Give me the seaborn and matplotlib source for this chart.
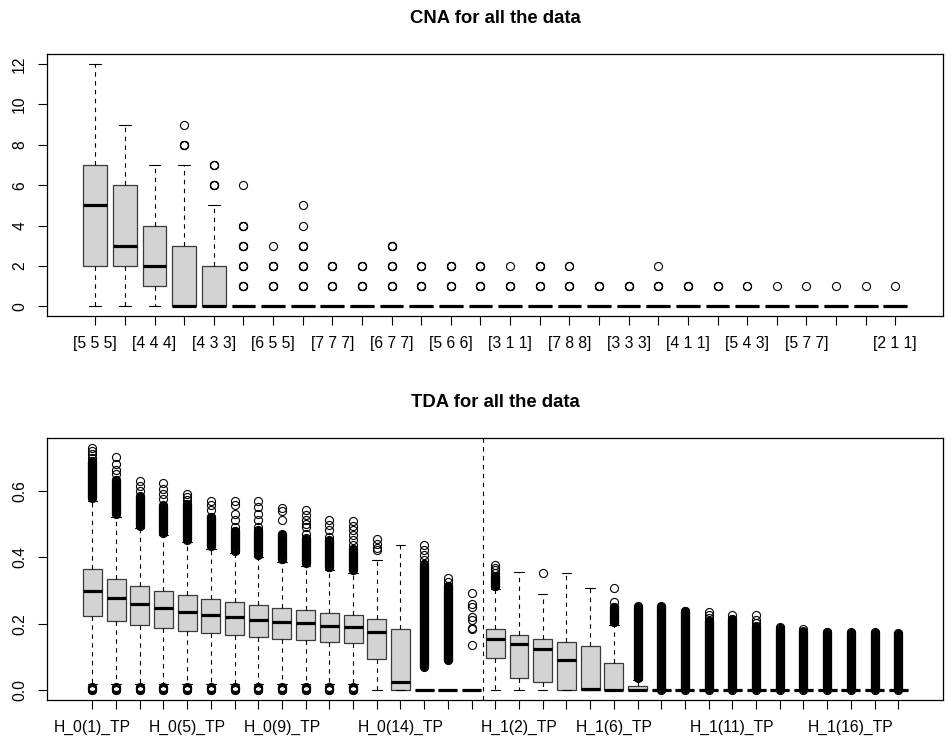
import numpy as np
import pandas as pd
import matplotlib
matplotlib.use("Agg")
import matplotlib.pyplot as plt
import seaborn as sns

# ---------------- CNA panel data ----------------
cna_labels = ["[5 5 5]", "", "[4 4 4]", "", "[4 3 3]", "", "[6 5 5]", "",
              "[7 7 7]", "", "[6 7 7]", "", "[5 6 6]", "", "[3 1 1]", "",
              "[7 8 8]", "", "[3 3 3]", "", "[4 1 1]", "", "[5 4 3]", "",
              "[5 7 7]", "", "", "[2 1 1]"]
cna_lo  = [0, 0, 0, 0, 0, 0, 0, 0, 0, 0, 0, 0, 0, 0, 0, 0, 0, 0, 0, 0, 0, 0, 0, 0, 0, 0, 0, 0]
cna_q1  = [2, 2, 1, 0, 0, 0, 0, 0, 0, 0, 0, 0, 0, 0, 0, 0, 0, 0, 0, 0, 0, 0, 0, 0, 0, 0, 0, 0]
cna_med = [5, 3, 2, 0, 0, 0, 0, 0, 0, 0, 0, 0, 0, 0, 0, 0, 0, 0, 0, 0, 0, 0, 0, 0, 0, 0, 0, 0]
cna_q3  = [7, 6, 4, 3, 2, 0, 0, 0, 0, 0, 0, 0, 0, 0, 0, 0, 0, 0, 0, 0, 0, 0, 0, 0, 0, 0, 0, 0]
cna_hi  = [12, 9, 7, 7, 5, 0, 0, 0, 0, 0, 0, 0, 0, 0, 0, 0, 0, 0, 0, 0, 0, 0, 0, 0, 0, 0, 0, 0]
# outliers (repeated values = overlapping circles drawn bold)
cna_out = [
    [], [], [],
    [8, 8, 8, 8, 9],
    [6, 6, 6, 6, 7, 7, 7],
    [1, 1, 1, 1, 2, 2, 2, 2, 3, 3, 3, 3, 4, 4, 4, 4, 6],
    [1, 1, 1, 1, 2, 2, 2, 2, 3],
    [1, 1, 1, 1, 2, 2, 2, 2, 3, 3, 3, 3, 4, 5],
    [1, 1, 1, 1, 2, 2, 2, 2],
    [1, 1, 1, 1, 2, 2, 2, 2],
    [1, 1, 1, 1, 2, 2, 2, 2, 3, 3, 3, 3],
    [1, 1, 1, 1, 2, 2, 2, 2],
    [1, 1, 1, 1, 2, 2, 2, 2],
    [1, 1, 1, 1, 2, 2, 2, 2],
    [1, 1, 1, 1, 2],
    [1, 1, 1, 1, 2, 2, 2, 2],
    [1, 1, 1, 1, 2, 2],
    [1, 1, 1, 1],
    [1, 1, 1, 1],
    [1, 1, 1, 1, 2],
    [1, 1, 1, 1],
    [1, 1, 1],
    [1, 1],
    [1],
    [1],
    [1],
    [1],
    [1],
]

# ---------------- TDA panel data ----------------
tda_names = ["H_0(1)_TP", "H_0(2)_TP", "H_0(3)_TP", "H_0(4)_TP", "H_0(5)_TP",
             "H_0(6)_TP", "H_0(7)_TP", "H_0(8)_TP", "H_0(9)_TP", "H_0(10)_TP",
             "H_0(11)_TP", "H_0(12)_TP", "H_0(13)_TP", "H_0(14)_TP", "H_0(15)_TP",
             "H_0(16)_TP", "H_0(17)_TP",
             "H_1(1)_TP", "H_1(2)_TP", "H_1(3)_TP", "H_1(4)_TP", "H_1(5)_TP",
             "H_1(6)_TP", "H_1(7)_TP", "H_1(8)_TP", "H_1(9)_TP", "H_1(10)_TP",
             "H_1(11)_TP", "H_1(12)_TP", "H_1(13)_TP", "H_1(14)_TP", "H_1(15)_TP",
             "H_1(16)_TP", "H_1(17)_TP", "H_1(18)_TP"]
tda_shown = ["H_0(1)_TP", "H_0(5)_TP", "H_0(9)_TP", "H_0(14)_TP",
             "H_1(2)_TP", "H_1(6)_TP", "H_1(11)_TP", "H_1(16)_TP"]

tda_lo  = [0.020, 0.020, 0.020, 0.020, 0.020, 0.020, 0.020, 0.020, 0.020, 0.020,
           0.020, 0.020, 0.0, 0.0, 0.0, 0.0, 0.0,
           0.0, 0.0, 0.0, 0.0, 0.0, 0.0, 0.0, 0.0, 0.0, 0.0,
           0.0, 0.0, 0.0, 0.0, 0.0, 0.0, 0.0, 0.0]
tda_q1  = [0.223, 0.208, 0.195, 0.186, 0.178, 0.171, 0.165, 0.160, 0.154, 0.150,
           0.145, 0.142, 0.093, 0.0, 0.0, 0.0, 0.0,
           0.098, 0.036, 0.026, 0.0, 0.0, 0.0, 0.0, 0.0, 0.0, 0.0,
           0.0, 0.0, 0.0, 0.0, 0.0, 0.0, 0.0, 0.0]
tda_med = [0.299, 0.277, 0.260, 0.249, 0.236, 0.228, 0.221, 0.213, 0.206, 0.201,
           0.194, 0.189, 0.176, 0.026, 0.0, 0.0, 0.0,
           0.153, 0.138, 0.124, 0.091, 0.004, 0.002, 0.002, 0.0, 0.0, 0.0,
           0.0, 0.0, 0.0, 0.0, 0.0, 0.0, 0.0, 0.0]
tda_q3  = [0.364, 0.335, 0.314, 0.300, 0.287, 0.275, 0.266, 0.258, 0.249, 0.242,
           0.234, 0.228, 0.216, 0.184, 0.0, 0.0, 0.0,
           0.183, 0.167, 0.153, 0.144, 0.133, 0.081, 0.014, 0.0, 0.0, 0.0,
           0.0, 0.0, 0.0, 0.0, 0.0, 0.0, 0.0, 0.0]
tda_hi  = [0.570, 0.520, 0.488, 0.466, 0.445, 0.426, 0.412, 0.400, 0.386, 0.375,
           0.362, 0.354, 0.393, 0.436, 0.0, 0.0, 0.0,
           0.305, 0.356, 0.290, 0.353, 0.307, 0.196, 0.030, 0.0, 0.0, 0.0,
           0.0, 0.0, 0.0, 0.0, 0.0, 0.0, 0.0, 0.0]
# individually visible outliers
tda_out = [
    [0.700, 0.710, 0.720, 0.729],
    [0.651, 0.664, 0.681, 0.701],
    [0.601, 0.616, 0.631],
    [0.576, 0.591, 0.606, 0.624],
    [0.572, 0.581, 0.591],
    [0.541, 0.556, 0.571],
    [0.491, 0.511, 0.531, 0.556, 0.571],
    [0.491, 0.511, 0.531, 0.551, 0.569],
    [0.513, 0.540, 0.549],
    [0.471, 0.491, 0.501, 0.511, 0.526, 0.543],
    [0.461, 0.481, 0.496, 0.511],
    [0.436, 0.451, 0.466, 0.481, 0.494, 0.508],
    [0.421, 0.428, 0.441, 0.456],
    [],
    [0.391, 0.406, 0.421, 0.436],
    [0.326, 0.338],
    [0.136, 0.184, 0.188, 0.213, 0.221, 0.251, 0.259, 0.293],
    [0.352, 0.361, 0.369, 0.376],
    [],
    [0.353],
    [],
    [],
    [0.266, 0.307],
    [],
    [],
    [],
    [0.219, 0.227, 0.236],
    [0.226],
    [0.203, 0.212, 0.226],
    [0.191],
    [0.183],
    [],
    [],
    [],
    [],
]
# extents of outlier runs so dense that they print as solid black columns
tda_dense = [
    [(0.0, 0.010), (0.579, 0.690)],
    [(0.0, 0.010), (0.530, 0.635)],
    [(0.0, 0.010), (0.495, 0.586)],
    [(0.0, 0.010), (0.474, 0.556)],
    [(0.0, 0.010), (0.453, 0.560)],
    [(0.0, 0.010), (0.434, 0.521)],
    [(0.0, 0.010), (0.420, 0.481)],
    [(0.0, 0.010), (0.408, 0.481)],
    [(0.0, 0.010), (0.394, 0.471)],
    [(0.0, 0.010), (0.383, 0.456)],
    [(0.0, 0.010), (0.370, 0.451)],
    [(0.0, 0.010), (0.362, 0.426)],
    [], [],
    [(0.071, 0.381)],
    [(0.091, 0.316)],
    [],
    [(0.313, 0.345)],
    [], [], [], [],
    [(0.204, 0.252)],
    [(0.037, 0.253)],
    [(0.002, 0.254)],
    [(0.002, 0.240)],
    [(0.002, 0.210)],
    [(0.002, 0.216)],
    [(0.002, 0.192)],
    [(0.002, 0.186)],
    [(0.002, 0.178)],
    [(0.002, 0.176)],
    [(0.002, 0.175)],
    [(0.002, 0.174)],
    [(0.002, 0.172)],
]


def build_frame(lo, q1, med, q3, hi, out, dense=None, k=600, step=0.002):
    """Sample table whose box statistics equal the read summary values."""
    rows_pos, rows_val = [], []
    for i in range(len(lo)):
        vals = [lo[i]] * k + [q1[i]] * k + [med[i]] * k + [q3[i]] * k + [hi[i]] * k
        vals += list(out[i])
        if dense is not None:
            for a, b in dense[i]:
                vals += list(np.arange(a, b + step / 2, step))
        rows_pos += [i] * len(vals)
        rows_val += vals
    return pd.DataFrame({"pos": rows_pos, "value": rows_val})


cna_df = build_frame(cna_lo, cna_q1, cna_med, cna_q3, cna_hi, cna_out)
tda_df = build_frame(tda_lo, tda_q1, tda_med, tda_q3, tda_hi, tda_out, tda_dense)

sns.set_theme(style="ticks")
plt.rcParams["font.family"] = ["Liberation Sans", "DejaVu Sans"]
plt.rcParams["text.color"] = "black"
plt.rcParams["xtick.color"] = "black"
plt.rcParams["ytick.color"] = "black"
plt.rcParams["axes.edgecolor"] = "black"

fig = plt.figure(figsize=(9.48, 7.45), dpi=100)
ax1 = fig.add_axes([47.3 / 948, 1 - 316 / 745, (943.3 - 47.3) / 948, (316 - 54.3) / 745])
ax2 = fig.add_axes([47.3 / 948, 1 - 700 / 745, (943.3 - 47.3) / 948, (700 - 438.3) / 745])

box_kw = dict(
    color="#D3D3D3", saturation=1, linecolor="#3a3a3a", linewidth=0.9, width=0.8,
    medianprops=dict(color="black", linewidth=2.3),
    whiskerprops=dict(color="black", linewidth=0.8, linestyle=(0, (4, 4))),
    capprops=dict(color="black", linewidth=0.8),
    flierprops=dict(marker="o", markerfacecolor="none", markeredgecolor="black",
                    markersize=5.8, markeredgewidth=0.8),
)

sns.boxplot(data=cna_df, x="pos", y="value", order=list(range(len(cna_lo))), ax=ax1, **box_kw)
sns.boxplot(data=tda_df, x="pos", y="value", order=list(range(len(tda_lo))), ax=ax2, **box_kw)

# axes limits as R does (4% extension)
n1 = len(cna_lo)
ax1.set_xlim(-0.5 - 0.04 * n1, n1 - 0.5 + 0.04 * n1)
ax1.set_ylim(-0.48, 12.48)
n2 = len(tda_lo)
ax2.set_xlim(-0.5 - 0.04 * n2, n2 - 0.5 + 0.04 * n2)
ymax2 = 0.729
ax2.set_ylim(-0.04 * ymax2, ymax2 * 1.04)

ax1.set_xticks(range(n1))
ax1.set_xticklabels(cna_labels)
ax1.set_yticks([0, 2, 4, 6, 8, 10, 12])
ax1.set_yticklabels(["0", "2", "4", "6", "8", "10", "12"], rotation=90, va="center")

ax2.set_xticks(range(n2))
ax2.set_xticklabels([nm if nm in tda_shown else "" for nm in tda_names])
ax2.set_yticks([0.0, 0.2, 0.4, 0.6])
ax2.set_yticklabels(["0.0", "0.2", "0.4", "0.6"], rotation=90, va="center")

# divider between H_0 and H_1 features
ax2.axvline(16.5, color="black", linewidth=0.8, linestyle=(0, (4, 4)))

for ax in (ax1, ax2):
    ax.set_xlabel("")
    ax.set_ylabel("")
    for sp in ax.spines.values():
        sp.set_visible(True)
        sp.set_linewidth(0.9)
        sp.set_color("black")
    ax.tick_params(axis="both", direction="out", length=6.5, width=0.8,
                   labelsize=11.3, pad=8)
    ax.grid(False)

ax1.text(0.5, 1 + 31 / 261.7, "CNA for all the data", transform=ax1.transAxes,
         ha="center", va="baseline", fontsize=13.3, fontweight="bold")
ax2.text(0.5, 1 + 31 / 261.7, "TDA for all the data", transform=ax2.transAxes,
         ha="center", va="baseline", fontsize=13.3, fontweight="bold")

fig.savefig("out.png", dpi=100)
